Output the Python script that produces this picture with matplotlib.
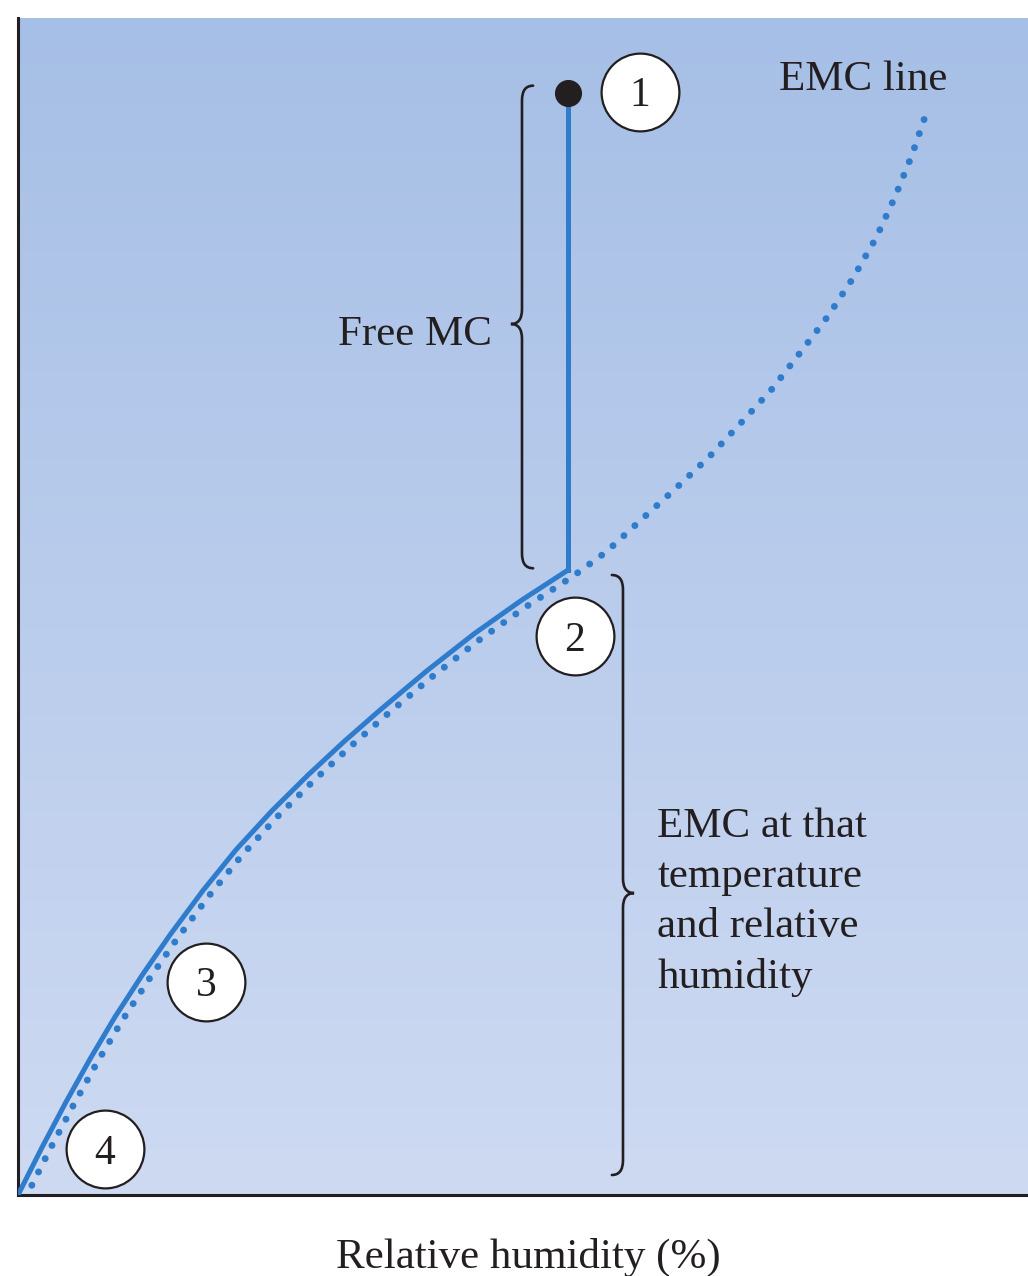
import numpy as np
import matplotlib
matplotlib.use("Agg")
import matplotlib.pyplot as plt
from matplotlib.path import Path
from matplotlib.patches import PathPatch

# -----------------------------
# DATA (relative humidity %, moisture content, arbitrary units)
# -----------------------------

# EMC line (dotted)
emc_rh = [0.71, 3.08, 5.45, 7.86, 10.28, 12.99, 15.69, 18.94, 22.19, 25.72,
          29.27, 32.81, 36.36, 40.99, 45.62, 50.25, 54.87, 58.22, 61.68, 65.05,
          68.42, 71.58, 74.65, 77.43, 80.20, 82.67, 84.95, 86.83, 88.51, 90.10]
emc_mc = [-0.12, 1.50, 3.03, 4.52, 5.91, 7.34, 8.68, 10.18, 11.55, 12.87,
          14.08, 15.21, 16.28, 17.61, 18.85, 19.98, 21.01, 21.85, 22.94, 23.99,
          25.08, 26.24, 27.39, 28.62, 29.87, 31.16, 32.52, 33.92, 35.34, 36.94]

# drying path following the EMC (solid)
dry_rh = [0, 2.38, 4.75, 7.18, 9.60, 12.33, 15.05, 18.32, 21.58, 25.15,
          28.71, 32.28, 35.84, 40.50, 45.15, 49.80, 54.46]
dry_mc = [0, 1.62, 3.16, 4.65, 6.05, 7.49, 8.84, 10.35, 11.73, 13.06,
          14.27, 15.41, 16.48, 17.82, 19.07, 20.20, 21.24]

# free water drop at constant RH
free_rh = [54.46, 54.46]
free_mc = [37.45, 21.24]

# numbered stages
stage_labels = ["1", "2", "3", "4"]
stage_rh = [61.6, 55.1, 18.6, 8.6]
stage_mc = [37.5, 19.0, 7.25, 1.55]

BLUE = "#2f7ccc"
INK = "#231f20"
SERIF = ["Liberation Serif", "DejaVu Serif"]

# -----------------------------
# FIGURE
# -----------------------------

fig = plt.figure(figsize=(10.28, 12.76), dpi=100)
ax = fig.add_axes([18 / 1028, 81 / 1276, 1010 / 1028, 1177 / 1276])
ax.set_xlim(0, 100)
ax.set_ylim(0, 40)

# background gradient, darker at the top
top = np.array([166, 191, 230]) / 255
bottom = np.array([206, 218, 242]) / 255
t = np.linspace(0, 1, 256)[:, None]
grad = (top * (1 - t) + bottom * t)[:, None, :]
ax.imshow(grad, extent=[0, 100, 0, 40], aspect="auto", origin="upper", zorder=0)

for side in ["top", "right"]:
    ax.spines[side].set_visible(False)
for side in ["left", "bottom"]:
    ax.spines[side].set_linewidth(2.2)
    ax.spines[side].set_color(INK)
ax.set_xticks([])
ax.set_yticks([])

# curves
ax.plot(emc_rh, emc_mc, color=BLUE, lw=5, linestyle=(0, (0.01, 2.13)),
        dash_capstyle="round", zorder=2)
ax.plot(dry_rh, dry_mc, color=BLUE, lw=3.6, solid_joinstyle="miter", zorder=3)
ax.plot(free_rh, free_mc, color=BLUE, lw=3.6, zorder=3)
ax.plot(free_rh[0], free_mc[0], "o", color=INK, ms=18.5, zorder=4)

# stage circles
for lab, x, y in zip(stage_labels, stage_rh, stage_mc):
    ax.plot(x, y, "o", ms=56, mfc="white", mec=INK, mew=1.6, zorder=5)
    ax.text(x, y, lab, ha="center", va="center_baseline", fontsize=30,
            family=SERIF, color=INK, zorder=6)


# curly braces
def brace(x0, y0, y1, ym, tip, w=1.1, r=0.5):
    # tip = +1 points right, -1 points left
    e = x0 - tip * w
    p = x0 + tip * w
    verts = [(e, y0), (x0, y0), (x0, y0 + r),
             (x0, ym - r), (x0, ym), (p, ym),
             (x0, ym), (x0, ym + r),
             (x0, y1 - r), (x0, y1), (e, y1)]
    codes = [Path.MOVETO, Path.CURVE3, Path.CURVE3,
             Path.LINETO, Path.CURVE3, Path.CURVE3,
             Path.CURVE3, Path.CURVE3,
             Path.LINETO, Path.CURVE3, Path.CURVE3]
    ax.add_patch(PathPatch(Path(verts, codes), fill=False, ec=INK, lw=1.9,
                           capstyle="round", zorder=3))


brace(49.9, 21.3, 37.7, 29.6, tip=-1)
brace(59.9, 0.68, 21.07, 10.26, tip=1)

# texts
ax.text(75.3, 37.55, "EMC line", fontsize=31, family=SERIF, color=INK,
        va="baseline", ha="left")
ax.text(46.9, 28.89, "Free MC", fontsize=31, family=SERIF, color=INK,
        va="baseline", ha="right")
ax.text(63.3, 7.03, "EMC at that\ntemperature\nand relative\nhumidity",
        fontsize=31, family=SERIF, color=INK, va="baseline", ha="left",
        linespacing=1.39)

fig.text(528 / 1028, 8 / 1276, "Relative humidity (%)", fontsize=31,
         family=SERIF, color=INK, ha="center", va="baseline")

fig.savefig("out.png", dpi=100)
